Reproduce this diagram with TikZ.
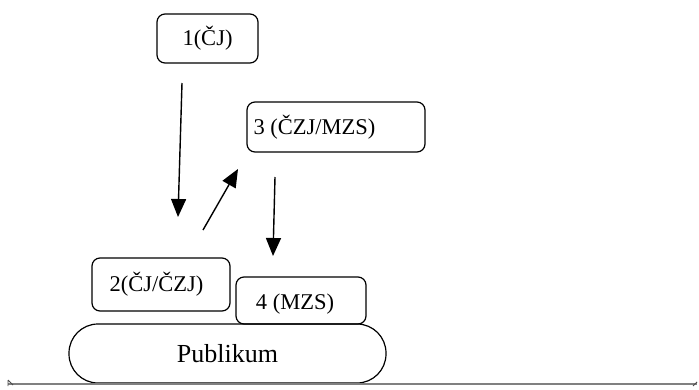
\documentclass[tikz,border=0pt]{standalone}
\usepackage{fontspec}
\setmainfont{Liberation Serif}
\usetikzlibrary{arrows.meta}
\begin{document}
\begin{tikzpicture}[x=1pt,y=-1pt,
  stagebox/.style={draw,line width=1.2pt,rounded corners=8pt,inner sep=0pt,
    font=\fontsize{22.5}{26}\selectfont},
  flow/.style={line width=1.4pt,-{Triangle[length=18pt,width=15pt]}},
  audience/.style={draw,line width=1.2pt,rounded corners=29pt,inner sep=0pt,
    font=\fontsize{26}{30}\selectfont}]
\useasboundingbox (0,0) rectangle (699,389);

% stages of the translation chain
\node[stagebox,minimum width=101pt,minimum height=49pt] (b1) at (207.5,38.5) {1(ČJ)};
\node[stagebox,minimum width=178pt,minimum height=50pt] (b3) at (336,127) {};
\node[anchor=west,font=\fontsize{22.5}{26}\selectfont] (t3) at (250,127) {3 (ČZJ/MZS)};
\node[stagebox,minimum width=138pt,minimum height=53pt] (b2) at (161,284.5) {};
\node[font=\fontsize{22.5}{26}\selectfont] (t2) at (156.5,284) {2(ČJ/ČZJ)};
\node[stagebox,minimum width=130pt,minimum height=47pt] (b4) at (301,300.5) {};
\node[font=\fontsize{22.5}{26}\selectfont] (t4) at (295,304) {4 (MZS)};

% audience
\node[audience,minimum width=317pt,minimum height=59pt] (pub) at (227.5,353.5) {Publikum};

% arrow end points
\coordinate (a1s) at (182,83);
\coordinate (a1e) at (178,217);
\coordinate (a2s) at (203,230);
\coordinate (a2e) at (238,169);
\coordinate (a3s) at (275,177);
\coordinate (a3e) at (273,256);
\draw[flow] (a1s) -- (a1e);
\draw[flow] (a2s) -- (a2e);
\draw[flow] (a3s) -- (a3e);

% edge of the stage below
\coordinate (gl) at (8,384);
\coordinate (gr) at (697,384);
\draw[line width=1.5pt,gray] (gl) -- (gr);
\draw[line width=0.8pt,black!70] (8,380) -- (8,386) (8,380) -- (13,385);
\draw[line width=0.8pt,black!70] (697,382) -- (693,386);
\end{tikzpicture}
\end{document}
